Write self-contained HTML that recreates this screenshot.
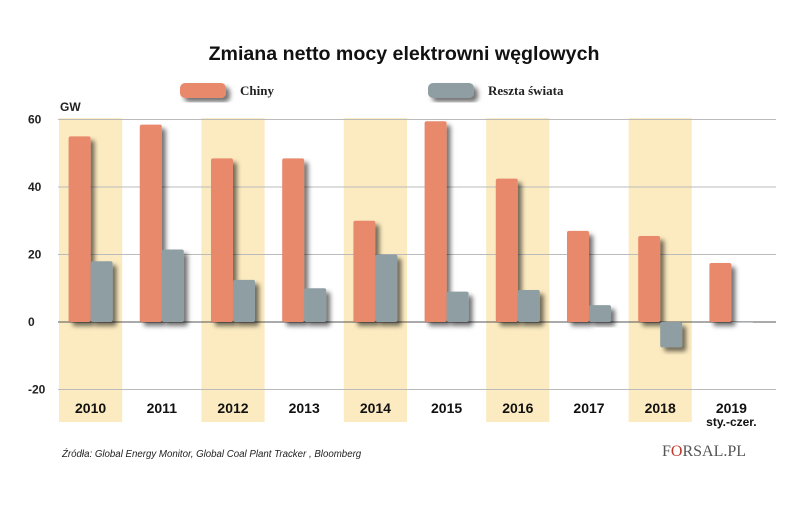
<!DOCTYPE html>
<html><head><meta charset="utf-8"><style>
body{margin:0;background:#fff;width:805px;height:500px;overflow:hidden;font-family:"Liberation Sans",sans-serif}
</style></head><body>
<svg id="c" width="805" height="500" xmlns="http://www.w3.org/2000/svg">
<defs><filter id="sh" x="-50%" y="-20%" width="200%" height="150%"><feDropShadow dx="4" dy="4" stdDeviation="2.5" flood-color="#000" flood-opacity="0.55"/></filter></defs>
<text x="404" y="60" text-anchor="middle" font-size="19.6" font-weight="bold" fill="#111">Zmiana netto mocy elektrowni węglowych</text>
<g id="legend"></g>
<text x="60" y="111" font-size="12" font-weight="bold" fill="#222">GW</text>
<g id="bands"></g><g id="grid"></g><g id="bars"></g><g id="labels"></g>
<text x="62" y="457" font-size="9.7" font-style="italic" fill="#222">Źródła: Global Energy Monitor, Global Coal Plant Tracker , Bloomberg</text>
<text x="704" y="456" text-anchor="middle" font-size="16" font-family="Liberation Serif,serif" fill="#555">F<tspan fill="#c0392b">O</tspan>RSAL.PL</text>
</svg>
<script>
const categories=["2010","2011","2012","2013","2014","2015","2016","2017","2018","2019"];
const chiny=[55,58.5,48.5,48.5,30,59.5,42.5,27,25.5,17.5];
const reszta=[18,21.5,12.5,10,20,9,9.5,5,-7.5,0];
const ticks=[60,40,20,0,-20];
const NS="http://www.w3.org/2000/svg";
const y=v=>322-v*(67.5/20);
const x0=58,step=71.2;
const cx=i=>x0+step*i+step/2;
function mk(t,a,p){const e=document.createElementNS(NS,t);for(const k in a)e.setAttribute(k,a[k]);(p||document.getElementById('c')).appendChild(e);return e;}
const bands=document.getElementById('bands'),grid=document.getElementById('grid'),bars=document.getElementById('bars'),labels=document.getElementById('labels'),legend=document.getElementById('legend');
categories.forEach((c,i)=>{if(i%2==0){const b=mk('rect',{x:x0+step*i+1,y:118,width:step-8,height:304,fill:'#fcebc0'},bands);

}});
ticks.forEach(t=>{const l=mk('line',{x1:58,x2:776,y1:y(t),y2:y(t),stroke:t==0?'#555':'#bbb','stroke-width':1},grid);


const tx=mk('text',{x:28,y:y(t)+4,'font-size':12,'font-weight':'bold',fill:'#222'},grid);tx.textContent=t;

});
categories.forEach((c,i)=>{const cxx=cx(i)-3;
[[chiny[i],'#e8896c',cxx-22,'bar-chiny-'],[reszta[i],'#8e9ea3',cxx,'bar-reszta-']].forEach(([v,col,xx,n])=>{
const top=Math.min(y(v),y(0)),h=Math.max(Math.abs(y(v)-y(0)),0.5);
const r=mk('rect',{x:xx,y:top,width:22,height:h,rx:2,fill:col,filter:'url(#sh)'},bars);

});
const t=mk('text',{x:cxx,y:413,'text-anchor':'middle','font-size':14,'font-weight':'bold',fill:'#111'},labels);t.textContent=c;


if(c=="2019"){const s=mk('text',{x:cxx,y:426,'text-anchor':'middle','font-size':12,'font-weight':'bold',fill:'#111'},labels);s.textContent='sty.-czer.';

}});
[[180,'#e8896c','Chiny'],[428,'#8e9ea3','Reszta świata']].forEach(([lx,col,txt])=>{
const r=mk('rect',{x:lx,y:83,width:46,height:15,rx:5,fill:col,filter:'url(#sh)'},legend);


const t=mk('text',{x:lx+60,y:95,'font-size':13,'font-weight':'bold','font-family':'Liberation Serif,serif',fill:'#222'},legend);t.textContent=txt;

});
</script>
</body></html>
